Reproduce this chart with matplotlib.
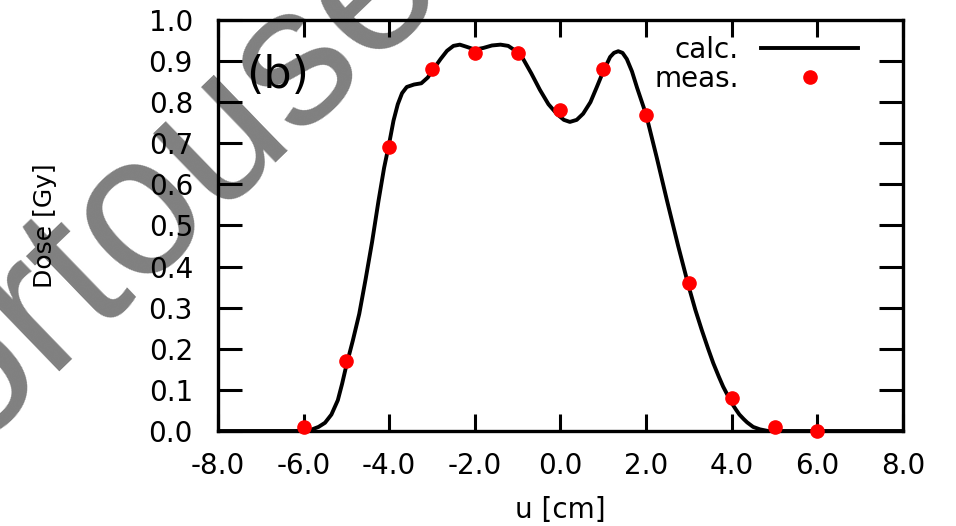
import numpy as np
import matplotlib
matplotlib.use('Agg')
import matplotlib.pyplot as plt

plt.rcParams['font.family'] = ['DejaVu Sans']

#---------------------------------------------------------------------
# calculated dose profile
#---------------------------------------------------------------------
u_calc = [-8.0, -6.2, -5.95, -5.8, -5.65, -5.5, -5.35, -5.2, -5.1, -5.0, -4.85,
          -4.7, -4.55, -4.4, -4.25, -4.12, -4.0, -3.9, -3.8, -3.7, -3.59, -3.42,
          -3.25, -3.1, -2.97, -2.8, -2.65, -2.5, -2.35, -2.2, -2.0, -1.8, -1.6,
          -1.4, -1.22, -1.05, -0.87, -0.68, -0.48, -0.28, -0.08, 0.08, 0.22, 0.38,
          0.53, 0.7, 0.85, 1.0, 1.16, 1.25, 1.35, 1.45, 1.55, 1.67, 1.79, 2.0,
          2.25, 2.49, 2.75, 3.0, 3.15, 3.3, 3.45, 3.57, 3.7, 3.8, 3.9, 4.0, 4.1,
          4.18, 4.28, 4.36, 4.5, 4.66, 4.85, 6.0, 8.0]
dose_calc = [0.0, 0.0, 0.001, 0.004, 0.01, 0.02, 0.04, 0.075, 0.115, 0.16, 0.22,
             0.285, 0.37, 0.46, 0.56, 0.64, 0.70, 0.755, 0.795, 0.822, 0.837, 0.843,
             0.846, 0.86, 0.88, 0.905, 0.925, 0.937, 0.94, 0.935, 0.928, 0.932, 0.938,
             0.94, 0.937, 0.925, 0.905, 0.87, 0.83, 0.795, 0.771, 0.757, 0.752, 0.757,
             0.772, 0.80, 0.837, 0.875, 0.91, 0.92, 0.924, 0.92, 0.905, 0.875, 0.835, 0.77,
             0.665, 0.56, 0.45, 0.35, 0.295, 0.246, 0.2, 0.165, 0.132, 0.108, 0.088, 0.068, 0.052,
             0.04, 0.029, 0.021, 0.01, 0.004, 0.0, 0.0, 0.0]

# measured points
u_meas = [-6.0, -5.0, -4.0, -3.0, -2.0, -1.0, 0.0, 1.0, 2.0, 3.0, 4.0, 5.0, 6.0]
dose_meas = [0.01, 0.17, 0.69, 0.88, 0.92, 0.92, 0.78, 0.88, 0.77, 0.36, 0.08, 0.01, 0.0]

xticks = [-8, -6, -4, -2, 0, 2, 4, 6, 8]
yticks = [0.0, 0.1, 0.2, 0.3, 0.4, 0.5, 0.6, 0.7, 0.8, 0.9, 1.0]

fig = plt.figure(figsize=[9.56, 5.26], dpi=100)

# watermark behind everything
fig.text(-0.033, 0.142, 'ortouse', fontsize=144, color='#808080', rotation=44,
         family='Liberation Sans', ha='left', va='baseline',
         rotation_mode='anchor', zorder=-1)

ax = fig.add_axes([0.228, 0.1806, 0.7165, 0.7814])
ax.patch.set_alpha(0)

ax.plot(u_calc, dose_calc, color='black', lw=2.8, label='calc.', zorder=2)
ax.plot(u_meas, dose_meas, 'o', color='red', ms=9.5, label='meas.', zorder=3,
        clip_on=False)

ax.set_xlim(-8, 8)
ax.set_ylim(0, 1)
ax.set_xticks(xticks)
ax.set_xticklabels(['%.1f' % v for v in xticks])
ax.set_yticks(yticks)
ax.set_yticklabels(['%.1f' % v for v in yticks])

ax.tick_params(axis='both', direction='in', width=2.2, labelsize=20)
ax.tick_params(axis='x', length=12, pad=15, top=True)
ax.tick_params(axis='y', length=17, pad=18, right=True)
for sp in ax.spines.values():
    sp.set_linewidth(2.4)

ax.set_xlabel('u [cm]', fontsize=20)
ax.xaxis.set_label_coords(0.5, -0.192)
ax.xaxis.label.set_va('center')
ax.set_ylabel('Dose [Gy]', fontsize=18)
ax.yaxis.set_label_coords(-0.2526, 0.5)
ax.yaxis.label.set_va('center')

ax.text(0.0876, 0.866, '(b)', transform=ax.transAxes, fontsize=32,
        ha='center', va='center')

ax.legend(loc='upper right', bbox_to_anchor=(0.935, 0.962), frameon=False,
          markerfirst=False, fontsize=20, handlelength=3.5, handletextpad=0.8,
          labelspacing=0.05, numpoints=1, borderaxespad=0, borderpad=0)

fig.savefig('out.png', dpi=100)
